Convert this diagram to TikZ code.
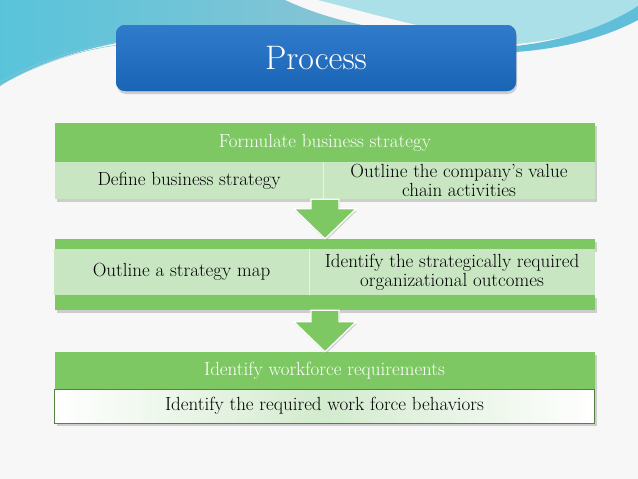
\documentclass[tikz,border=0pt]{standalone}
\usepackage{tikz}
\usetikzlibrary{calc,shadows,positioning}

\definecolor{hdrgreen}{RGB}{125,200,98}
\definecolor{rowgreen}{RGB}{200,230,194}
\definecolor{edgegreen}{RGB}{84,130,66}
\definecolor{titleblue}{RGB}{30,112,198}
\definecolor{titledark}{RGB}{26,100,182}
\definecolor{tealleft}{RGB}{88,196,218}
\definecolor{tealgrey}{RGB}{140,196,212}
\definecolor{skyright}{RGB}{172,224,232}
\definecolor{skystripe}{RGB}{96,190,216}

\tikzset{
  boxshadow/.style={drop shadow={shadow xshift=2pt,shadow yshift=-3pt,opacity=.35}},
  header/.style={fill=hdrgreen,text=white,minimum width=540,inner sep=0pt,
    font=\fontsize{19}{21}\selectfont},
  cell/.style={fill=rowgreen,text=black,inner sep=0pt,align=center,
    font=\fontsize{19}{19}\selectfont},
  band/.style={fill=hdrgreen,minimum width=540,inner sep=0pt},
  lastrow/.style={draw=edgegreen,line width=.8pt,left color=white,right color=white,
    middle color=rowgreen!80,minimum width=540,minimum height=34,inner sep=0pt,
    font=\fontsize{19}{21}\selectfont},
  flow/.style={fill=hdrgreen,draw=white,line width=1.2pt,line join=miter,
    drop shadow={shadow xshift=1pt,shadow yshift=-2pt,opacity=.3}},
}

% block arrow from the bottom of one box to the top of the next
\newcommand{\flowarrow}[2]{%
  \path[flow] let \p1=(#1), \p2=(#2) in
    (\x1-14pt,\y1) -- (\x1-14pt,\y2+30pt) -- (\x1-31pt,\y2+30pt) -- (\x2,\y2)
    -- (\x1+31pt,\y2+30pt) -- (\x1+14pt,\y2+30pt) -- (\x1+14pt,\y1) -- cycle;}

\begin{document}
\begin{tikzpicture}[x=1pt,y=-1pt]
    \useasboundingbox (0,0) rectangle (638,479);
    \fill[white!97!black] (0,0) rectangle (638,479);

    % background swooshes
    \shade[left color=tealleft,right color=tealgrey]
        (0,0) -- (285,0) .. controls (315,14) and (350,24) .. (390,30)
        .. controls (250,24) and (90,28) .. (0,86) -- cycle;
    \fill[skyright] (318,0) -- (638,0) -- (638,16) .. controls (600,30) and (560,40) .. (516,44)
        -- (430,28) .. controls (385,18) and (350,8) .. (318,0) -- cycle;
    \fill[skystripe] (516,46) .. controls (570,40) and (610,24) .. (638,6)
        -- (638,20) .. controls (608,36) and (568,48) .. (516,52) -- cycle;
    \draw[tealgrey,line width=.5pt] (0,82) .. controls (40,60) and (80,48) .. (118,42);
    \draw[tealgrey,line width=.5pt] (0,85) .. controls (40,63) and (80,50) .. (118,45);
    \draw[skystripe,line width=.5pt] (516,50) .. controls (570,46) and (612,30) .. (638,14);

    % title
    \node[fill=titleblue,rounded corners=9pt,minimum width=400,minimum height=66,
        text=white,font=\fontsize{34}{36}\selectfont,
        drop shadow={shadow xshift=1pt,shadow yshift=-3pt,opacity=.35},
        top color=titleblue!92!white,bottom color=titledark] (title) at (316,58) {Process};

    % first box
    \node[header,boxshadow,minimum height=39] (fbs) at (325,142.5) {Formulate business strategy};
    \node[cell,boxshadow,minimum width=268,minimum height=37] (dbs) at (189,180.5) {Define business strategy};
    \node[cell,boxshadow,minimum width=272,minimum height=37] (ocv) at (459,180.5)
        {Outline the company's value\\chain activities};
    \draw[white!55!rowgreen] (dbs.north east) -- (dbs.south east);

    % second box
    \node[band,boxshadow,minimum height=10] (top2) at (324.5,244) {};
    \node[band,boxshadow,minimum height=15] (bot2) at (324.5,302.5) {};
    \node[cell,minimum width=255,minimum height=46] (osm) at (181.5,272) {Outline a strategy map};
    \node[cell,minimum width=286,minimum height=46] (isr) at (452,272)
        {Identify the strategically required\\organizational outcomes};
    \draw[white!55!rowgreen] (osm.north east) -- (osm.south east);

    % third box
    \node[header,boxshadow,minimum height=37] (iwr) at (324.5,370.5) {Identify workforce requirements};
    \node[lastrow,boxshadow] (irb) at (324.5,406) {Identify the required work force behaviors};

    % arrows between the boxes
    \flowarrow{fbs |- dbs.south}{fbs |- top2.north}
    \flowarrow{fbs |- bot2.south}{fbs |- iwr.north}
\end{tikzpicture}
\end{document}
